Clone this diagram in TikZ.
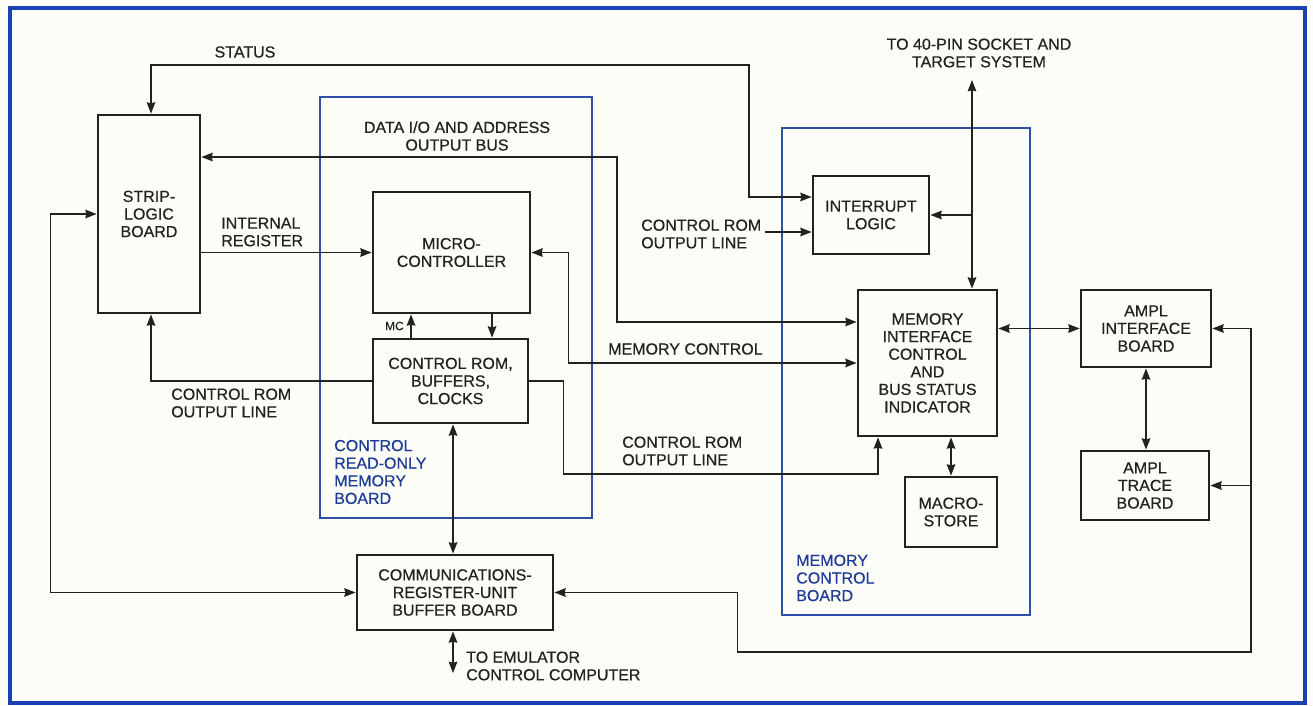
\documentclass[tikz,border=0pt]{standalone}
\usepackage{fontspec}
\setmainfont{Liberation Sans}[FakeBold=0.5]
\usetikzlibrary{arrows.meta,calc}
\definecolor{ink}{HTML}{23231C}
\definecolor{bluebd}{HTML}{2F4FA8}
\definecolor{bluetx}{HTML}{1E3C96}
\definecolor{framec}{HTML}{1B3FB5}
\definecolor{paper}{HTML}{FDFDF8}
\begin{document}
\begin{tikzpicture}[x=0.75pt,y=-0.75pt,
  font=\fontsize{12}{13.2}\selectfont,
  bx/.style 2 args={draw=ink, line width=2.1pt, minimum width={#1*0.75pt}, minimum height={#2*0.75pt}, inner sep=0pt, align=center, text=ink},
  board/.style 2 args={draw=bluebd, line width=1pt, minimum width={#1*0.75pt}, minimum height={#2*0.75pt}, inner sep=0pt},
  conn/.style={draw=ink, line width=0.95pt},
  lbl/.style={text=ink, align=left, inner sep=0pt},
  clbl/.style={text=ink, align=center, inner sep=0pt},
  blbl/.style={text=bluetx, align=left, inner sep=0pt},
  >={Stealth[length=8.5pt,width=6.5pt,inset=0.8pt]}
]
\useasboundingbox (0,0) rectangle (1313,706);
\fill[paper] (0,0) rectangle (1313,706);
\draw[framec, line width=2.6pt] (10,8) rectangle (1305,703);

% boards
\node[board={272}{421}] (cromboard) at (456,307.5) {};
\node[board={248}{487}] (memboard) at (906,371.5) {};

% boxes
\node[bx={102}{198}] (strip) at (149,214) {STRIP-\\LOGIC\\BOARD};
\node[bx={157}{121}] (micro) at (451.5,252.5) {MICRO-\\CONTROLLER};
\node[bx={155}{84}] (crom) at (450.5,381) {CONTROL ROM,\\BUFFERS,\\CLOCKS};
\node[bx={196}{75}] (comm) at (455,592.5) {COMMUNICATIONS-\\REGISTER-UNIT\\BUFFER BOARD};
\node[bx={116}{78}] (intr) at (871,215) {INTERRUPT\\LOGIC};
\node[bx={139}{146}] (mem) at (927.5,363) {MEMORY\\INTERFACE\\CONTROL\\AND\\BUS STATUS\\INDICATOR};
\node[bx={92}{70}] (macro) at (951,512) {MACRO-\\STORE};
\node[bx={130}{77}] (amplI) at (1146,328.5) {AMPL\\INTERFACE\\BOARD};
\node[bx={128}{69}] (amplT) at (1145,485.5) {AMPL\\TRACE\\BOARD};

% helper coordinates
\coordinate (c1) at (749,65);
\coordinate (c2) at (617,322);
\coordinate (c4) at (878,474);
\coordinate (c6) at (1251,652);
\coordinate (c7) at (765,232);
\coordinate (top40) at (972,80);
\coordinate (emu) at (453,673);

% connectors
\draw[conn,<->] ([xshift=1.5pt]strip.north) |- (c1) |- ([yshift=13.5pt]intr.west);
\draw[conn,<->] ([yshift=42.75pt]strip.east) -| (c2) -- (c2 -| mem.west);
\draw[conn,->] (strip.east |- micro.west) -- (micro.west);
\draw[conn,<->] (micro.east) -- ++(37,0) |- (mem.west);
\draw[conn,->] ([xshift=-29.6pt]crom.north) -- ([xshift=-29.6pt]crom.north |- micro.south);
\draw[conn,->] ([xshift=30.4pt]micro.south) -- ([xshift=30.4pt]micro.south |- crom.north);
\draw[conn,->] (crom.west) -| ([xshift=1.5pt]strip.south);
\draw[conn,->] (crom.east) -- ++(34,0) |- (c4) -- (c4 |- mem.south);
\draw[conn,<->] ([xshift=1.9pt]crom.south) -- ([xshift=1.9pt]crom.south |- comm.north);
\draw[conn,<->] (emu |- comm.south) -- (emu);
\draw[conn,<->] (strip.west) -- ++(-46,0) |- (comm.west);
\draw[conn,<->] (comm.east) -- ++(183,0) |- (c6) |- (amplI.east);
\draw[conn,->] (c6 |- amplT.east) -- (amplT.east);
\draw[conn,->] (c7) -- (c7 -| intr.west);
\draw[conn,<->] (top40) -- (top40 |- mem.north);
\draw[conn,->] (top40 |- intr.east) -- (intr.east);
\draw[conn,<->] (mem.east |- amplI.west) -- (amplI.west);
\draw[conn,<->] (macro.north) -- (macro.north |- mem.south);
\draw[conn,<->] (amplI.south) -- (amplI.south |- amplT.north);

% labels
\node[clbl] (lstatus) at (245,52) {STATUS};
\node[clbl] (ldata) at (457,136) {DATA I/O AND ADDRESS\\OUTPUT BUS};
\node[lbl, anchor=west] (lint) at (221,232) {INTERNAL\\REGISTER};
\node[lbl, anchor=west] (lcrom1) at (171,403) {CONTROL ROM\\OUTPUT LINE};
\node[lbl, anchor=west] (lmemc) at (608,349) {MEMORY CONTROL};
\node[lbl, anchor=west] (lcrom2) at (622,451) {CONTROL ROM\\OUTPUT LINE};
\node[lbl, anchor=west] (lcrom3) at (641,234) {CONTROL ROM\\OUTPUT LINE};
\node[clbl] (l40) at (979,53) {TO 40-PIN SOCKET AND\\TARGET SYSTEM};
\node[lbl, anchor=west] (lemu) at (466,666) {TO EMULATOR\\CONTROL COMPUTER};
\node[blbl, anchor=west] (lcromb) at (334,472) {CONTROL\\READ-ONLY\\MEMORY\\BOARD};
\node[blbl, anchor=west] (lmemb) at (796,578) {MEMORY\\CONTROL\\BOARD};
\node[lbl, anchor=east, font=\fontsize{9}{10}\selectfont] (lmc) at (404,326) {MC};
\end{tikzpicture}
\end{document}
